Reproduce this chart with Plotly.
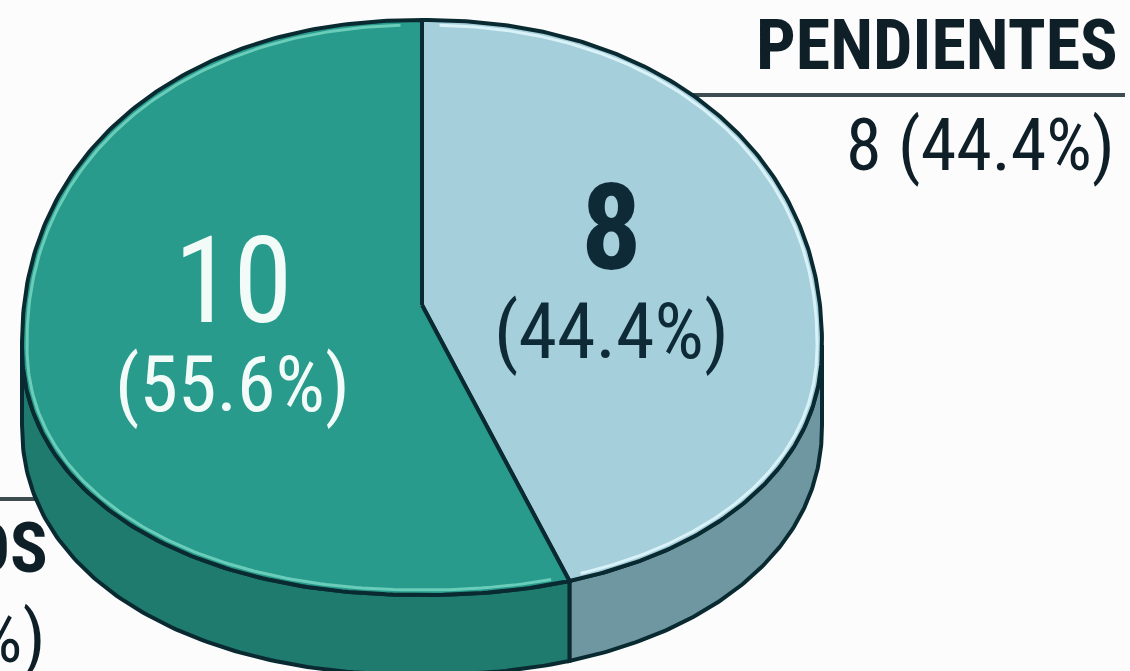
import numpy as np
import plotly.graph_objects as go

# ---- data ----
categories = ["PENDIENTES", "COMPLETADOS"]
values = [8, 10]

# ---- style ----
top_colors = ["#a6cfdc", "#289b8c"]
side_colors = ["#6f97a2", "#1e7b6d"]
rim_colors = ["#d8f2f8", "#6acdb9"]
inner_text_colors = ["#0f2a37", "#f2fbf8"]
inner_num_weight = [700, 400]
OUTLINE = "#0a2a32"
LEADER = "#3e4d52"
FONT = "Roboto Condensed, Liberation Sans Narrow, Arial Narrow, DejaVu Sans Condensed, sans-serif"

W, H = 1130, 671
CX, CY = 422, 345          # ellipse centre
PX, PY = 422, 305          # apex of the wedges
A, B_UP, B_DN = 400, 325, 250
DEPTH = 80
N = 2.15


def sp(u):
    return np.sign(u) * np.abs(u) ** (2 / N)


def pt(t_deg, inset=0.0, dy=0.0):
    t = np.radians(np.asarray(t_deg, dtype=float))
    s = sp(np.sin(t))
    c = sp(np.cos(t))
    b = np.where(c >= 0, B_UP, B_DN)
    x = CX + (A - inset) * s
    y = CY - (b - inset) * c + dy
    return x, y


total = float(sum(values))
fracs = [v / total for v in values]
starts = np.concatenate([[0.0], np.cumsum(fracs)[:-1]]) * 360
ends = np.cumsum(fracs) * 360

fig = go.Figure()

# side walls (front half only: 90..270 deg clockwise from top)
for i in range(len(values)):
    lo, hi = max(starts[i], 90), min(ends[i], 270)
    if hi <= lo:
        continue
    ts = np.linspace(lo, hi, 120)
    xt, yt = pt(ts)
    xb, yb = pt(ts[::-1], dy=DEPTH)
    xs = np.concatenate([xt, xb, xt[:1]])
    ys = np.concatenate([yt, yb, yt[:1]])
    fig.add_trace(go.Scatter(x=xs, y=ys, mode="lines", fill="toself",
                             fillcolor=side_colors[i],
                             line=dict(color=OUTLINE, width=4),
                             hoverinfo="skip", showlegend=False))

# top faces
for i in range(len(values)):
    ts = np.linspace(starts[i], ends[i], 240)
    xa, ya = pt(ts)
    xs = np.concatenate([[PX], xa, [PX]])
    ys = np.concatenate([[PY], ya, [PY]])
    fig.add_trace(go.Scatter(x=xs, y=ys, mode="lines", fill="toself",
                             fillcolor=top_colors[i],
                             line=dict(color=OUTLINE, width=4),
                             hoverinfo="skip", showlegend=False,
                             name=categories[i]))
    xr, yr = pt(ts[3:-3], inset=5)
    fig.add_trace(go.Scatter(x=xr, y=yr, mode="lines",
                             line=dict(color=rim_colors[i], width=3),
                             hoverinfo="skip", showlegend=False))

annotations = []
# inner labels
for i in range(len(values)):
    tm = (starts[i] + ends[i]) / 2
    ex, ey = pt([tm])
    ax = PX + 0.48 * (float(ex[0]) - PX)
    ay = PY + 0.47 * (float(ey[0]) - PY)
    annotations.append(dict(x=ax, y=ay - 66, text=f"{values[i]}", showarrow=False,
                            xanchor="center", yanchor="middle",
                            font=dict(family=FONT, size=120, weight=inner_num_weight[i],
                                      color=inner_text_colors[i])))
    annotations.append(dict(x=ax, y=ay + 38, text=f"({fracs[i]*100:.1f}%)", showarrow=False,
                            xanchor="center", yanchor="middle",
                            font=dict(family=FONT, size=78, weight=400,
                                      color=inner_text_colors[i])))

# outside labels
outer_pos = [(1120, 45, 145), (50, 548, 637)]
for i in range(len(values)):
    xr, yt, yv = outer_pos[i]
    annotations.append(dict(x=xr, y=yt, text=f"<b>{categories[i]}</b>", showarrow=False,
                            xanchor="right", yanchor="middle",
                            font=dict(family=FONT, size=70, color="#0f1f28")))
    annotations.append(dict(x=xr - 3, y=yv, text=f"{values[i]} ({fracs[i]*100:.1f}%)",
                            showarrow=False, xanchor="right", yanchor="middle",
                            font=dict(family=FONT, size=72, color="#0f1f28")))

shapes = [
    dict(type="line", x0=640, x1=1125, y0=95, y1=95, layer="below",
         line=dict(color=LEADER, width=4)),
    dict(type="line", x0=-5, x1=130, y0=499, y1=499, layer="below",
         line=dict(color=LEADER, width=4)),
]

fig.update_layout(
    width=W, height=H,
    margin=dict(l=0, r=0, t=0, b=0),
    paper_bgcolor="#fcfcfc", plot_bgcolor="#fcfcfc",
    xaxis=dict(range=[0, W], visible=False, fixedrange=True),
    yaxis=dict(range=[H, 0], visible=False, fixedrange=True),
    annotations=annotations,
    shapes=shapes,
    showlegend=False,
)

fig.write_html("out.html", config={"displayModeBar": False},
               post_script="document.body.style.margin='0';document.body.style.background='#fcfcfc';")
